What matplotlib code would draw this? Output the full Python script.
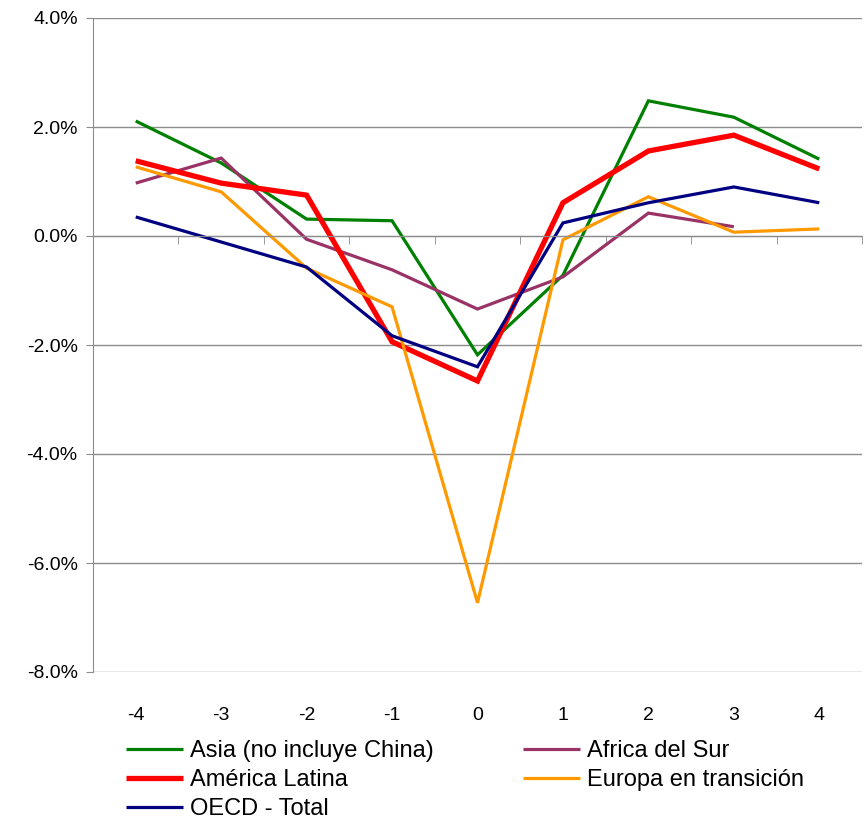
import matplotlib
matplotlib.use("Agg")
import matplotlib.pyplot as plt
from matplotlib.ticker import FuncFormatter, FixedLocator
from matplotlib import font_manager

fams = [f.name for f in font_manager.fontManager.ttflist]
fam = "Liberation Sans Narrow" if "Liberation Sans Narrow" in fams else "Liberation Sans"
plt.rcParams['font.family'] = [fam, 'DejaVu Sans']

periods = [-4, -3, -2, -1, 0, 1, 2, 3, 4]
asia = [2.11, 1.34, 0.31, 0.28, -2.18, -0.72, 2.48, 2.18, 1.41]
africa = [0.97, 1.43, -0.06, -0.62, -1.34, -0.75, 0.42, 0.17, None]
america = [1.38, 0.97, 0.75, -1.94, -2.66, 0.61, 1.56, 1.85, 1.23]
europa = [1.27, 0.81, -0.59, -1.30, -6.73, -0.07, 0.72, 0.07, 0.13]
oecd = [0.35, -0.11, -0.57, -1.83, -2.40, 0.24, 0.61, 0.90, 0.61]

fig = plt.figure(figsize=(8.67, 8.24), dpi=100)
ax = fig.add_axes([93/867, 1-672/824, (862-93)/867, (672-18)/824])

def clean(v):
    return [float('nan') if x is None else x for x in v]

series = [
    ("Asia (no incluye China)", asia, "#008000", 2.3),
    ("Africa del Sur", africa, "#993366", 2.3),
    ("América Latina", america, "#FF0000", 3.8),
    ("Europa en transición", europa, "#FF9900", 2.3),
    ("OECD - Total", oecd, "#000080", 2.3),
]
handles = {}
for name, vals, col, lw in series:
    h, = ax.plot(periods, clean(vals), color=col, lw=lw, label=name,
                 solid_joinstyle='miter', solid_capstyle='butt')
    handles[name] = h

ax.set_ylim(-8, 4)
ax.set_xlim(-4.5, 4.5)
ax.set_yticks([-8, -6, -4, -2, 0, 2, 4])
ax.yaxis.set_major_formatter(FuncFormatter(lambda v, p: f"{v:.1f}%"))
ax.grid(axis='y', color='#8c8c8c', lw=1)
ax.set_axisbelow(True)

for s in ['top', 'right']:
    ax.spines[s].set_visible(False)
ax.spines['left'].set_color('#8c8c8c')
ax.spines['bottom'].set_color('#8c8c8c')
ax.spines['bottom'].set_position(('data', 0))

ax.set_xticks(periods)
ax.set_xticklabels([str(p) for p in periods])
ax.xaxis.set_minor_locator(FixedLocator([x + 0.5 for x in range(-5, 5)]))
ax.tick_params(axis='x', which='major', length=0, pad=339, labelsize=14)
ax.tick_params(axis='x', which='minor', length=6, color='#8c8c8c', direction='out')
ax.tick_params(axis='y', length=5, color='#8c8c8c', labelsize=14, pad=6)

order = ["Asia (no incluye China)", "América Latina", "OECD - Total",
         "Africa del Sur", "Europa en transición"]
leg = fig.legend([handles[n] for n in order], order, ncol=2,
                 loc='upper left', bbox_to_anchor=(126/867, 1-740/824),
                 frameon=False, fontsize=17, handlelength=2.4,
                 handletextpad=0.3, columnspacing=3.8, labelspacing=0.3,
                 borderaxespad=0, borderpad=0)

fig.savefig("out.png", dpi=100)
